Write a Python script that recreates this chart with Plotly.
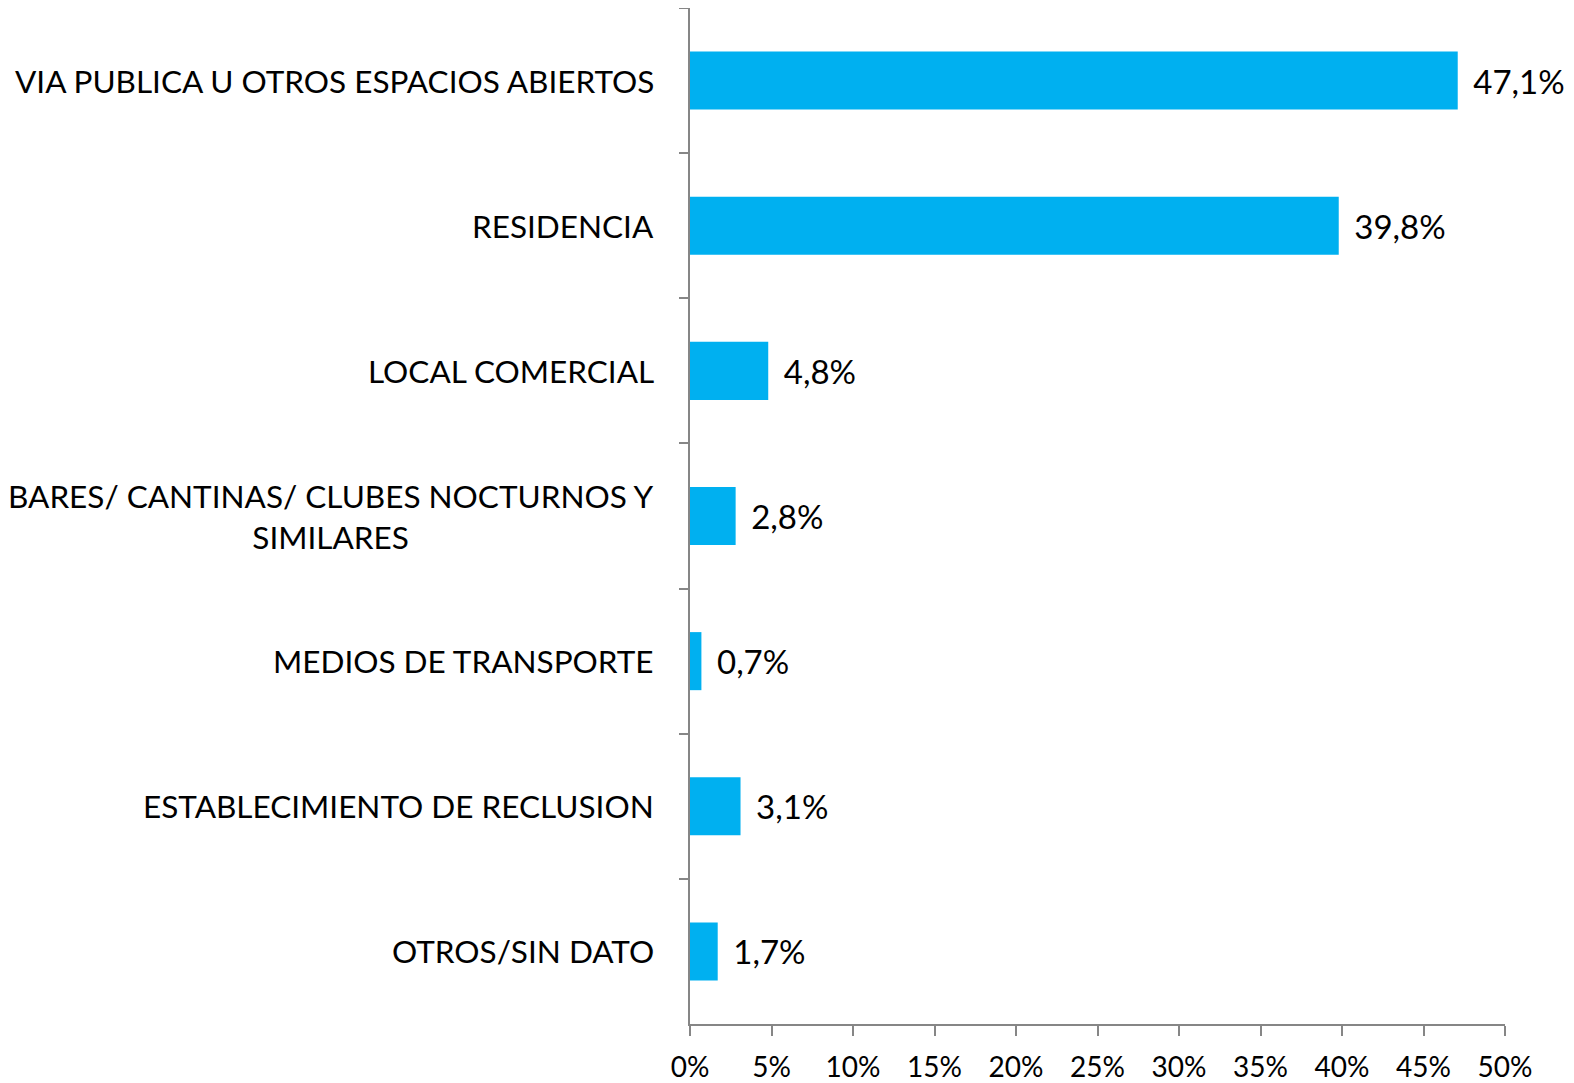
import plotly.graph_objects as go

categories = [
    "VIA PUBLICA U OTROS ESPACIOS ABIERTOS",
    "RESIDENCIA",
    "LOCAL COMERCIAL",
    "BARES/ CANTINAS/ CLUBES NOCTURNOS Y<br>SIMILARES",
    "MEDIOS DE TRANSPORTE",
    "ESTABLECIMIENTO DE RECLUSION",
    "OTROS/SIN DATO",
]
values = [47.1, 39.8, 4.8, 2.8, 0.7, 3.1, 1.7]
value_labels = ["47,1%", "39,8%", "4,8%", "2,8%", "0,7%", "3,1%", "1,7%"]
x_ticks = [0, 5, 10, 15, 20, 25, 30, 35, 40, 45, 50]
x_tick_labels = [f"{t}%" for t in x_ticks]

FONT = "Lato"
fig = go.Figure()
fig.add_trace(go.Bar(
    y=categories, x=values, orientation="h",
    marker=dict(color="#00B0F0", line=dict(width=0)),
    width=0.4,
    text=["\u00a0\u2009" + v for v in value_labels],
    textposition="outside",
    textfont=dict(family=FONT, size=33, color="#000000"),
    cliponaxis=False,
))

for c in categories:
    fig.add_annotation(
        x=0, xref="paper", y=c, yref="y", text=c, showarrow=False,
        xanchor="right", align="center", xshift=-34,
        font=dict(family=FONT, size=31.5, color="#000000"),
    )

fig.update_layout(
    width=1566, height=1075,
    margin=dict(l=682, r=69, t=0, b=59, autoexpand=False),
    plot_bgcolor="white", paper_bgcolor="white",
    showlegend=False,
    bargap=0.6,
)
fig.update_xaxes(
    range=[0, 50], tickvals=x_ticks, ticktext=x_tick_labels,
    showgrid=False, zeroline=False, automargin=False,
    showline=True, linecolor="#868686", linewidth=2,
    ticks="outside", ticklen=10, tickcolor="#868686", tickwidth=2,
    ticklabelstandoff=7,
    tickfont=dict(family=FONT, size=28, color="#000000"),
)
fig.update_yaxes(
    autorange="reversed", showgrid=False, zeroline=False, automargin=False,
    showline=True, linecolor="#868686", linewidth=2,
    ticks="outside", ticklen=9, tickcolor="#868686", tickwidth=2,
    tickson="boundaries", showticklabels=False,
)
fig.write_html("out.html")
